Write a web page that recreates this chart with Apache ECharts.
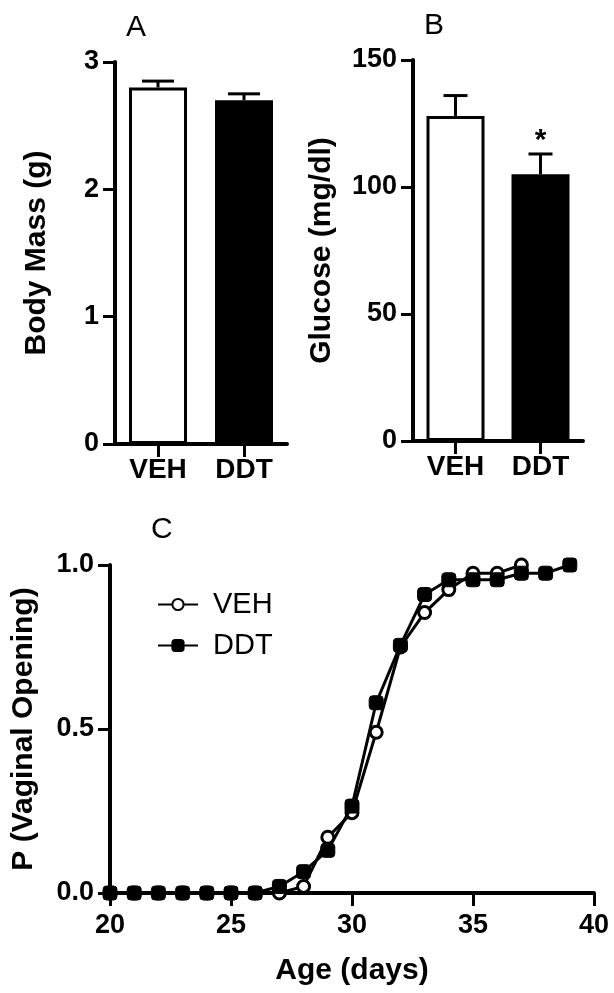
<!DOCTYPE html>
<html>
<head>
<meta charset="utf-8">
<title>DDT figure</title>
<script src="https://cdn.jsdelivr.net/npm/echarts@6/dist/echarts.min.js"></script>
<style>
  html, body { margin: 0; padding: 0; background: #fff; }
  #chart { width: 614px; height: 993px; }
</style>
</head>
<body>
<div id="chart"></div>
<script>
  // panel A / B
  var groups = ['VEH', 'DDT'];
  var massMean = [2.8, 2.7];
  var massErr = [0.05, 0.05];
  var glucoseMean = [128, 105];
  var glucoseErr = [8, 8];
  var glucoseSig = ['', '*'];

  // panel C
  var ageDays = [20, 21, 22, 23, 24, 25, 26, 27, 28, 29, 30, 31, 32, 33, 34, 35, 36, 37, 38, 39];
  var vehP = [0, 0, 0, 0, 0, 0, 0, 0, 0.02, 0.17, 0.245, 0.49, 0.75, 0.855, 0.925, 0.975, 0.975, 1.0];
  var ddtP = [0, 0, 0, 0, 0, 0, 0, 0.02, 0.065, 0.13, 0.265, 0.58, 0.755, 0.91, 0.955, 0.955, 0.955, 0.975, 0.975, 1.0];

  var FONT = 'Liberation Sans, Arial, sans-serif';
  var AXIS_W = 4;

  function pairs(xs, ys) {
    var out = [];
    ys.forEach(function (y, i) { out.push([xs[i], y]); });
    return out;
  }

  function errData(mean, err) {
    var out = [];
    mean.forEach(function (m, i) { out.push([i, m, err[i]]); });
    return out;
  }

  function errorRender(capW, sig) {
    return function (params, api) {
      var i = api.value(0), m = api.value(1), e = api.value(2);
      var p0 = api.coord([i, m]);
      var p1 = api.coord([i, m + e]);
      var s = sig ? sig[params.dataIndex] : '';
      var kids = [
        { type: 'line', shape: { x1: p0[0], y1: p0[1], x2: p1[0], y2: p1[1] }, style: { stroke: '#000', lineWidth: 3 } },
        { type: 'line', shape: { x1: p1[0] - capW / 2, y1: p1[1], x2: p1[0] + capW / 2, y2: p1[1] }, style: { stroke: '#000', lineWidth: 3 } }
      ];
      if (s) {
        kids.push({ type: 'text', x: p1[0], y: p1[1] + 2, style: { text: s, fill: '#000', font: 'bold 30px ' + FONT, align: 'center', verticalAlign: 'bottom' } });
      }
      return { type: 'group', children: kids };
    };
  }

  function valueAxis(grid, min, max, interval, name, nameGap, fmt) {
    return {
      gridIndex: grid, type: 'value', min: min, max: max, interval: interval,
      name: name, nameLocation: 'middle', nameGap: nameGap,
      nameTextStyle: { color: '#000', fontSize: 30, fontWeight: 'bold', fontFamily: FONT },
      axisLine: { show: true, lineStyle: { color: '#000', width: AXIS_W } },
      axisTick: { show: true, length: 12, lineStyle: { color: '#000', width: 3 } },
      axisLabel: { color: '#000', fontSize: 27, fontWeight: 'bold', fontFamily: FONT, margin: 16, formatter: fmt },
      splitLine: { show: false }
    };
  }

  function catAxis(grid) {
    return {
      gridIndex: grid, type: 'category', data: groups,
      axisLine: { show: true, lineStyle: { color: '#000', width: AXIS_W } },
      axisTick: { show: true, alignWithLabel: true, length: 13, lineStyle: { color: '#000', width: 3 } },
      axisLabel: { color: '#000', fontSize: 28, fontWeight: 'bold', fontFamily: FONT, margin: 12 }
    };
  }

  var barColors = [
    { color: '#fff', borderColor: '#000', borderWidth: 3 },
    { color: '#000', borderColor: '#000', borderWidth: 3 }
  ];

  function barSeries(xi, yi, vals) {
    return {
      type: 'bar', xAxisIndex: xi, yAxisIndex: yi, barWidth: 58,
      data: vals.map(function (v, i) { return { value: v, itemStyle: barColors[i] }; })
    };
  }

  var chart = echarts.init(document.getElementById('chart'));
  chart.setOption({
    animation: false,
    backgroundColor: '#fff',
    textStyle: { fontFamily: FONT },
    title: [
      { text: 'A', left: 121, top: 8, textStyle: { fontSize: 30, fontWeight: 'normal', color: '#000', fontFamily: FONT } },
      { text: 'B', left: 419, top: 6, textStyle: { fontSize: 30, fontWeight: 'normal', color: '#000', fontFamily: FONT } },
      { text: 'C', left: 146, top: 510, textStyle: { fontSize: 30, fontWeight: 'normal', color: '#000', fontFamily: FONT } }
    ],
    legend: {
      left: 152, top: 585, orient: 'vertical', itemGap: 12, itemWidth: 40, itemHeight: 14,
      textStyle: { fontSize: 29, color: '#000', fontFamily: FONT, padding: [0, 0, 0, 10] },
      data: ['VEH', 'DDT']
    },
    grid: [
      { left: 115, top: 62, width: 172, height: 382 },
      { left: 413, top: 60, width: 170, height: 381 },
      { left: 110, top: 565, width: 484, height: 328 }
    ],
    xAxis: [
      catAxis(0),
      catAxis(1),
      {
        gridIndex: 2, type: 'value', min: 20, max: 40, interval: 5,
        name: 'Age (days)', nameLocation: 'middle', nameGap: 63,
        nameTextStyle: { color: '#000', fontSize: 30, fontWeight: 'bold', fontFamily: FONT },
        axisLine: { show: true, onZero: false, lineStyle: { color: '#000', width: AXIS_W } },
        axisTick: { show: true, length: 13, lineStyle: { color: '#000', width: 3 } },
        axisLabel: { color: '#000', fontSize: 27, fontWeight: 'bold', fontFamily: FONT, margin: 19 },
        splitLine: { show: false }
      }
    ],
    yAxis: [
      valueAxis(0, 0, 3, 1, 'Body Mass (g)', 63),
      valueAxis(1, 0, 150, 50, 'Glucose (mg/dl)', 76),
      valueAxis(2, 0, 1, 0.5, 'P (Vaginal Opening)', 71, function (v) { return v.toFixed(1); })
    ],
    series: [
      barSeries(0, 0, massMean),
      {
        type: 'custom', xAxisIndex: 0, yAxisIndex: 0, z: 5,
        renderItem: errorRender(32), data: errData(massMean, massErr)
      },
      barSeries(1, 1, glucoseMean),
      {
        type: 'custom', xAxisIndex: 1, yAxisIndex: 1, z: 5,
        renderItem: errorRender(24, glucoseSig), data: errData(glucoseMean, glucoseErr)
      },
      {
        name: 'VEH', type: 'line', xAxisIndex: 2, yAxisIndex: 2, z: 3,
        data: pairs(ageDays, vehP),
        symbol: 'circle', symbolSize: 12,
        lineStyle: { color: '#000', width: 3 },
        itemStyle: { color: '#fff', borderColor: '#000', borderWidth: 3 }
      },
      {
        // squares sit on top of the circles, as in the original
        name: 'DDT', type: 'line', xAxisIndex: 2, yAxisIndex: 2, zlevel: 1,
        data: pairs(ageDays, ddtP),
        symbol: 'roundRect', symbolSize: 14,
        lineStyle: { color: '#000', width: 3 },
        itemStyle: { color: '#000', borderColor: '#000', borderWidth: 1 }
      }
    ]
  });
</script>
</body>
</html>
